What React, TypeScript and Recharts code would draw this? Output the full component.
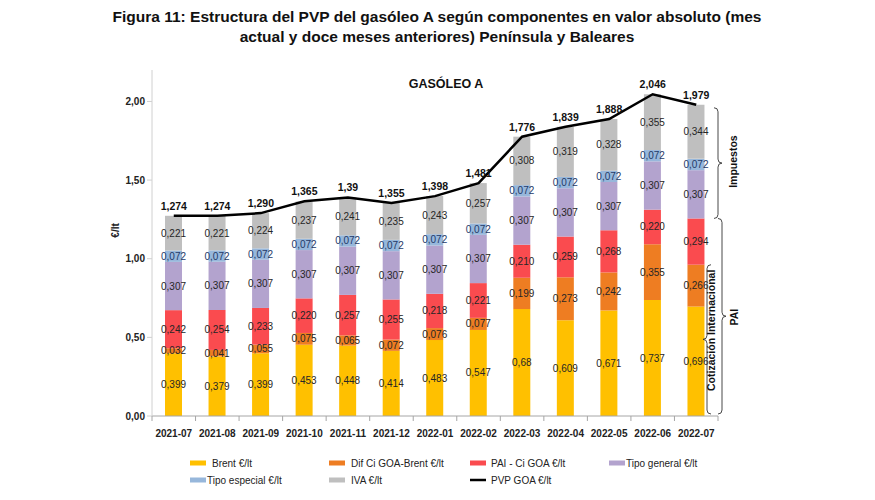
import React from "react";
import {
  ComposedChart,
  Bar,
  Line,
  XAxis,
  YAxis,
  LabelList,
} from "recharts";

// data (€/lt)
const MONTHS = [
  "2021-07", "2021-08", "2021-09", "2021-10", "2021-11", "2021-12", "2022-01",
  "2022-02", "2022-03", "2022-04", "2022-05", "2022-06", "2022-07",
];
const BRENT = [0.399, 0.379, 0.399, 0.453, 0.448, 0.414, 0.483, 0.547, 0.68, 0.609, 0.671, 0.737, 0.696];
const DIF_CI = [0.032, 0.041, 0.055, 0.075, 0.065, 0.072, 0.076, 0.077, 0.199, 0.273, 0.242, 0.355, 0.266];
const PAI_CI = [0.242, 0.254, 0.233, 0.22, 0.257, 0.255, 0.218, 0.221, 0.21, 0.259, 0.268, 0.22, 0.294];
const TIPO_GENERAL = [0.307, 0.307, 0.307, 0.307, 0.307, 0.307, 0.307, 0.307, 0.307, 0.307, 0.307, 0.307, 0.307];
const TIPO_ESPECIAL = [0.072, 0.072, 0.072, 0.072, 0.072, 0.072, 0.072, 0.072, 0.072, 0.072, 0.072, 0.072, 0.072];
const IVA = [0.221, 0.221, 0.224, 0.237, 0.241, 0.235, 0.243, 0.257, 0.308, 0.319, 0.328, 0.355, 0.344];
const PVP = [1.274, 1.274, 1.29, 1.365, 1.39, 1.355, 1.398, 1.481, 1.776, 1.839, 1.888, 2.046, 1.979];
// a couple of labels are printed with two decimals in the source
const PVP_TEXT = ["1,274", "1,274", "1,290", "1,365", "1,39", "1,355", "1,398", "1,481", "1,776", "1,839", "1,888", "2,046", "1,979"];
const BRENT_TEXT = ["0,399", "0,379", "0,399", "0,453", "0,448", "0,414", "0,483", "0,547", "0,68", "0,609", "0,671", "0,737", "0,696"];
const Y_TICKS = [0, 0.5, 1, 1.5, 2];
const Y_MAX = 2.2;

const COLORS = {
  brent: "#FFC000",
  dif: "#EE7D22",
  pai: "#FA4B4F",
  general: "#B3A3CE",
  especial: "#97B7DB",
  iva: "#BFBFBF",
  pvp: "#000000",
};

const W = 875;
const H = 500;
const MARGIN = { top: 70, right: 157, bottom: 54, left: 112 };
const Y_AXIS_W = 40;
const X_AXIS_H = 30;
const PLOT_LEFT = MARGIN.left + Y_AXIS_W;
const PLOT_RIGHT = W - MARGIN.right;
const PLOT_TOP = MARGIN.top;
const PLOT_BOTTOM = H - MARGIN.bottom - X_AXIS_H;
const BAND = (PLOT_RIGHT - PLOT_LEFT) / MONTHS.length;

const FONT = '"Liberation Sans", Arial, sans-serif';

const data = MONTHS.map((m, i) => ({
  mes: m,
  brent: BRENT[i],
  dif: DIF_CI[i],
  pai: PAI_CI[i],
  general: TIPO_GENERAL[i],
  especial: TIPO_ESPECIAL[i],
  iva: IVA[i],
  pvp: PVP[i],
}));

const fmt = (v: number) => v.toFixed(3).replace(".", ",");
const yOf = (v: number) => PLOT_BOTTOM - (v / Y_MAX) * (PLOT_BOTTOM - PLOT_TOP);

function XTick(props: any) {
  const { x, y, payload, index } = props;
  const left = x - BAND / 2;
  return (
    <g>
      <line x1={left} y1={y} x2={left} y2={y + 5} stroke="#A6A6A6" />
      {index === MONTHS.length - 1 && (
        <line x1={x + BAND / 2} y1={y} x2={x + BAND / 2} y2={y + 5} stroke="#A6A6A6" />
      )}
      <text x={x} y={y + 21} textAnchor="middle" fontSize={10} fontWeight="bold" fill="#222" fontFamily={FONT}>
        {payload.value}
      </text>
    </g>
  );
}

function SegLabel(props: any) {
  const { x, y, width, height, value, fill, text } = props;
  return (
    <text
      x={x + width / 2}
      y={y + height / 2}
      dy={3.5}
      textAnchor="middle"
      fontSize={10}
      fill={fill || "#262626"}
      fontFamily={FONT}
    >
      {text ?? fmt(value)}
    </text>
  );
}

// vertical curly brace, tip pointing to dir (1 = right, -1 = left)
function brace(x: number, y1: number, y2: number, dir: number, tipY?: number) {
  const r = 4;
  const ym = tipY ?? (y1 + y2) / 2;
  const x0 = x - dir * 4;
  const x2 = x + dir * 4;
  return `M${x0},${y1} Q${x},${y1} ${x},${y1 + r} L${x},${ym - r} Q${x},${ym} ${x2},${ym} Q${x},${ym} ${x},${ym + r} L${x},${y2 - r} Q${x},${y2} ${x0},${y2}`;
}

const titleStyle: React.CSSProperties = {
  position: "absolute",
  left: 0,
  width: 874,
  textAlign: "center",
  fontFamily: FONT,
  fontWeight: "bold",
  fontSize: 15.5,
  color: "#111",
  lineHeight: "20px",
  whiteSpace: "nowrap",
};

export default function App() {
  const last = MONTHS.length - 1;
  const paiTop = BRENT[last] + DIF_CI[last] + PAI_CI[last];
  const ciTop = BRENT[last] + DIF_CI[last];
  const total = paiTop + TIPO_GENERAL[last] + TIPO_ESPECIAL[last] + IVA[last];

  const legendRow1 = [
    { x: 190, label: "Brent €/lt", color: COLORS.brent, gap: 6 },
    { x: 329, label: "Dif Ci GOA-Brent €/lt", color: COLORS.dif, gap: 6 },
    { x: 470, label: "PAI - Ci GOA €/lt", color: COLORS.pai, gap: 5 },
    { x: 609, label: "Tipo general €/lt", color: COLORS.general, gap: 1 },
  ];
  const legendRow2 = [
    { x: 190, label: "Tipo especial €/lt", color: COLORS.especial, gap: 1 },
    { x: 329, label: "IVA €/lt", color: COLORS.iva, gap: 6 },
  ];

  return (
    <div style={{ position: "absolute", left: 0, top: 0, width: W, height: H, background: "#fff" }}>
      <div style={{ ...titleStyle, top: 7 }}>
        Figura 11: Estructura del PVP del gasóleo A según componentes en valor absoluto (mes
      </div>
      <div style={{ ...titleStyle, top: 27 }}>
        actual y doce meses anteriores) Península y Baleares
      </div>

      <div style={{ position: "absolute", left: 0, top: 0 }}>
        <ComposedChart width={W} height={H} data={data} margin={MARGIN} barSize={17}>
          <XAxis
            dataKey="mes"
            height={X_AXIS_H}
            stroke="#A6A6A6"
            tickLine={false}
            tickSize={0}
            tickMargin={0}
            interval={0}
            tick={<XTick />}
          />
          <YAxis
            width={Y_AXIS_W}
            domain={[0, Y_MAX]}
            ticks={Y_TICKS}
            stroke="#D0D0D0"
            tickSize={5}
            tickFormatter={(v: number) => v.toFixed(2).replace(".", ",")}
            tick={{ fontSize: 10, fontWeight: "bold", fill: "#222", fontFamily: FONT }}
          />
          <Bar dataKey="brent" stackId="a" fill={COLORS.brent} isAnimationActive={false}>
            <LabelList dataKey="brent" content={(p: any) => <SegLabel {...p} text={BRENT_TEXT[p.index]} />} />
          </Bar>
          <Bar dataKey="dif" stackId="a" fill={COLORS.dif} isAnimationActive={false}>
            <LabelList dataKey="dif" content={(p: any) => <SegLabel {...p} />} />
          </Bar>
          <Bar dataKey="pai" stackId="a" fill={COLORS.pai} isAnimationActive={false}>
            <LabelList dataKey="pai" content={(p: any) => <SegLabel {...p} />} />
          </Bar>
          <Bar dataKey="general" stackId="a" fill={COLORS.general} isAnimationActive={false}>
            <LabelList dataKey="general" content={(p: any) => <SegLabel {...p} />} />
          </Bar>
          <Bar dataKey="especial" stackId="a" fill={COLORS.especial} isAnimationActive={false}>
            <LabelList dataKey="especial" content={(p: any) => <SegLabel {...p} fill="#1F3A68" />} />
          </Bar>
          <Bar dataKey="iva" stackId="a" fill={COLORS.iva} isAnimationActive={false}>
            <LabelList dataKey="iva" content={(p: any) => <SegLabel {...p} />} />
          </Bar>
          <Line
            dataKey="pvp"
            type="linear"
            stroke={COLORS.pvp}
            strokeWidth={2.5}
            dot={false}
            isAnimationActive={false}
          >
            <LabelList
              dataKey="pvp"
              content={(p: any) => (
                <text
                  x={p.x}
                  y={p.y - 6}
                  textAnchor="middle"
                  fontSize={10.5}
                  fontWeight="bold"
                  fill="#111"
                  fontFamily={FONT}
                >
                  {PVP_TEXT[p.index]}
                </text>
              )}
            />
          </Line>
        </ComposedChart>
      </div>

      <svg width={W} height={H} style={{ position: "absolute", left: 0, top: 0, pointerEvents: "none" }}>
        <text x={446} y={88} textAnchor="middle" fontSize={12.5} fontWeight="bold" fill="#111" fontFamily={FONT}>
          GASÓLEO A
        </text>
        <text
          transform={`translate(119, ${yOf(1.18)}) rotate(-90)`}
          textAnchor="middle"
          fontSize={10}
          fontWeight="bold"
          fill="#222"
          fontFamily={FONT}
        >
          €/lt
        </text>

        {/* brackets on the right of the last bar */}
        <path d={brace(718, yOf(total) + 3, yOf(paiTop), 1)} fill="none" stroke="#333" strokeWidth={0.9} />
        <path d={brace(722, yOf(paiTop), yOf(0) - 2, 1)} fill="none" stroke="#333" strokeWidth={0.9} />
        <path d={brace(707, yOf(ciTop), yOf(0) - 2, -1)} fill="none" stroke="#333" strokeWidth={0.9} />
        <text
          transform={`translate(737, ${(yOf(total) + yOf(paiTop)) / 2}) rotate(-90)`}
          textAnchor="middle"
          fontSize={10.5}
          fontWeight="bold"
          fill="#111"
          fontFamily={FONT}
        >
          Impuestos
        </text>
        <text
          transform={`translate(738, ${(yOf(paiTop) + yOf(0)) / 2}) rotate(-90)`}
          textAnchor="middle"
          fontSize={10.5}
          fontWeight="bold"
          fill="#111"
          fontFamily={FONT}
        >
          PAI
        </text>
        <text
          transform={`translate(715, ${(yOf(ciTop) + yOf(0)) / 2 - 10}) rotate(-90)`}
          textAnchor="middle"
          fontSize={10.5}
          fontWeight="bold"
          fill="#111"
          fontFamily={FONT}
        >
          Cotización Internacional
        </text>

        {/* legend */}
        {legendRow1.map((it) => (
          <g key={it.label}>
            <rect x={it.x} y={460.5} width={16} height={5} fill={it.color} />
            <text x={it.x + 16 + it.gap} y={466.5} fontSize={10} fill="#222" fontFamily={FONT}>
              {it.label}
            </text>
          </g>
        ))}
        {legendRow2.map((it) => (
          <g key={it.label}>
            <rect x={it.x} y={477.5} width={16} height={5} fill={it.color} />
            <text x={it.x + 16 + it.gap} y={483.5} fontSize={10} fill="#222" fontFamily={FONT}>
              {it.label}
            </text>
          </g>
        ))}
        <line x1={470} y1={480} x2={486} y2={480} stroke={COLORS.pvp} strokeWidth={2.5} />
        <text x={491} y={483.5} fontSize={10} fill="#222" fontFamily={FONT}>
          PVP GOA €/lt
        </text>
      </svg>
    </div>
  );
}
